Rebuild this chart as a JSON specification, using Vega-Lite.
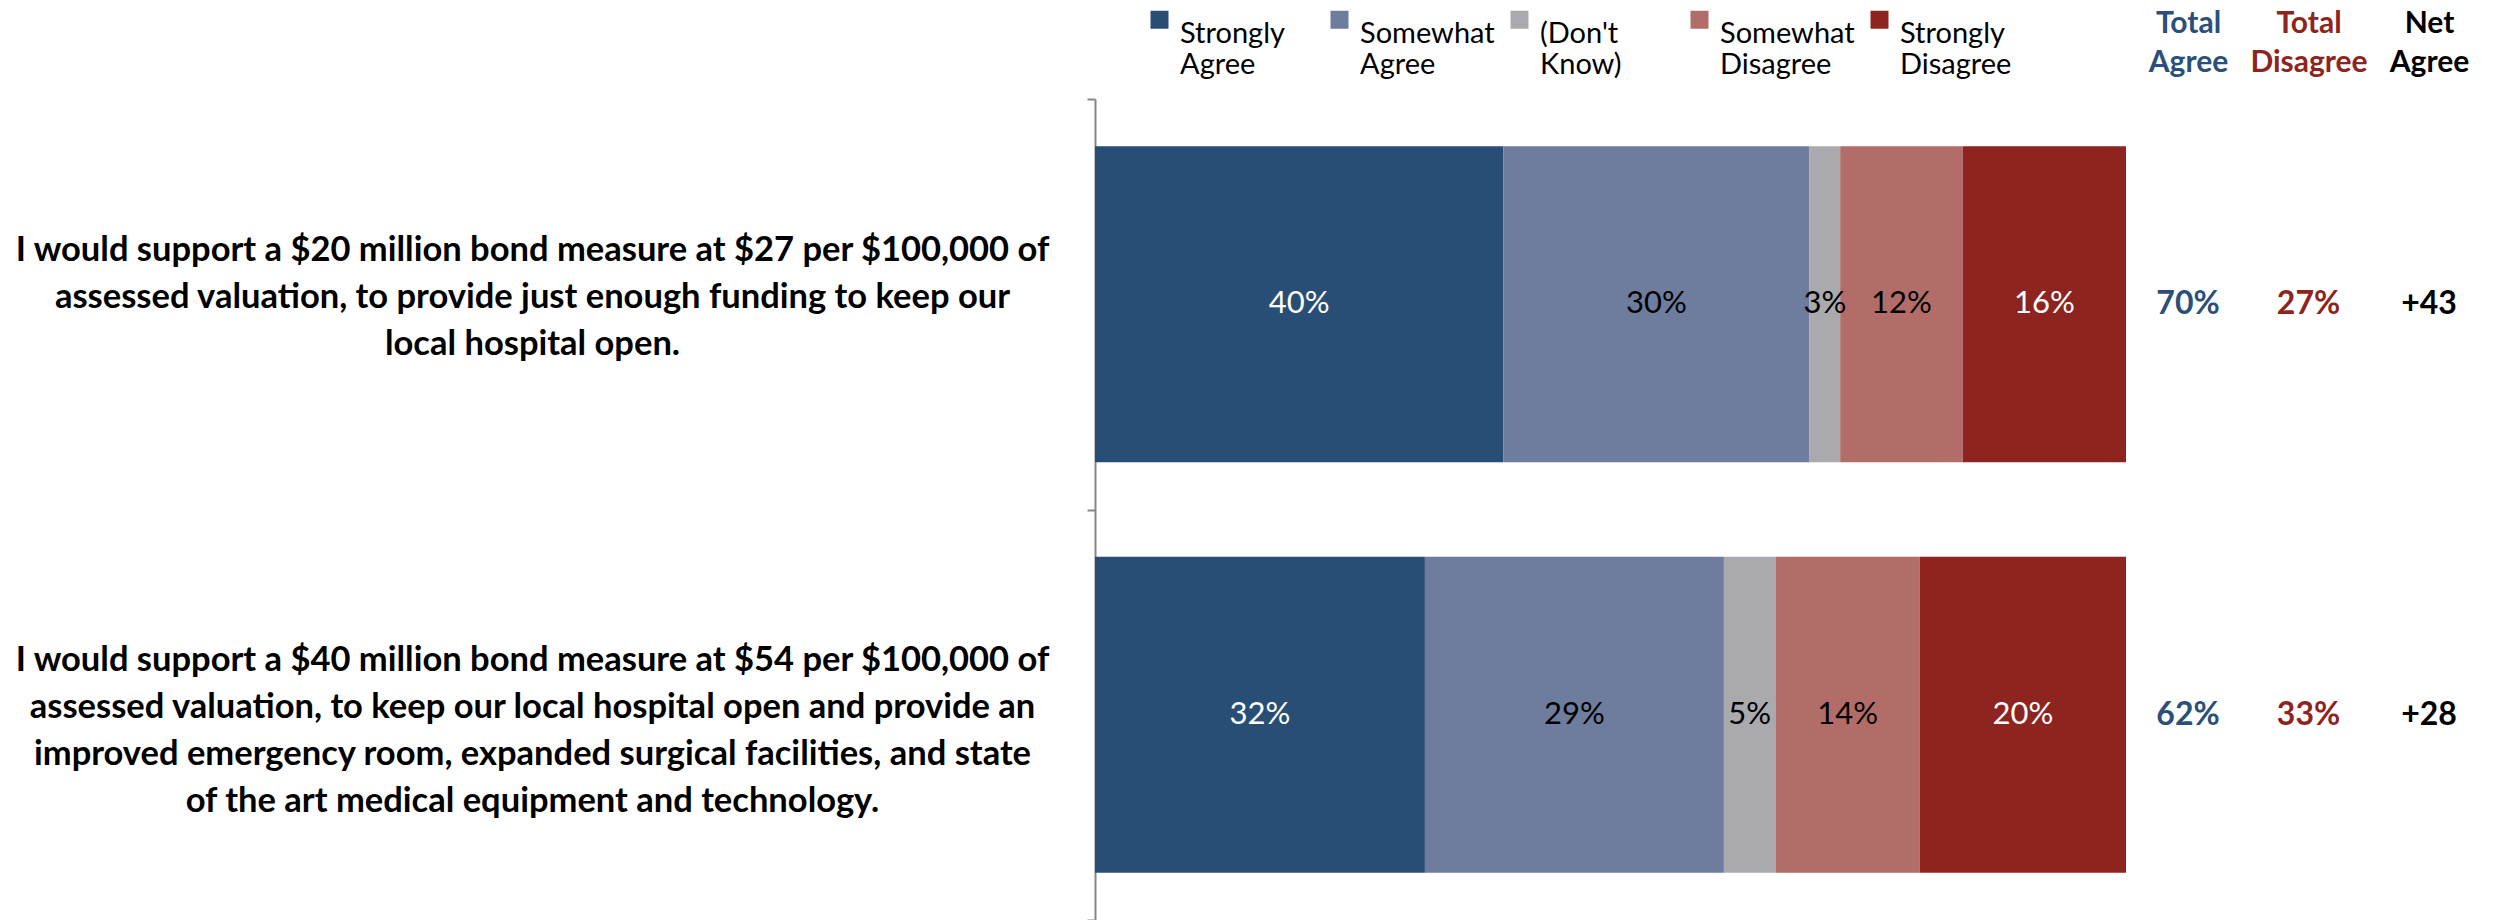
{
  "$schema": "https://vega.github.io/schema/vega-lite/v6.json",
  "width": 1409,
  "height": 821,
  "autosize": {"type": "none"},
  "padding": {"left": 1095, "top": 99, "right": 0, "bottom": 0},
  "background": "white",
  "config": {"view": {"stroke": null}, "font": "Lato"},
  "datasets": {
    "responses": [
      {"question": "I would support a $20 million bond measure at $27 per $100,000 of\nassessed valuation, to provide just enough funding to keep our\nlocal hospital open.", "response": "Strongly Agree", "rank": 1, "share": 0.40},
      {"question": "I would support a $20 million bond measure at $27 per $100,000 of\nassessed valuation, to provide just enough funding to keep our\nlocal hospital open.", "response": "Somewhat Agree", "rank": 2, "share": 0.30},
      {"question": "I would support a $20 million bond measure at $27 per $100,000 of\nassessed valuation, to provide just enough funding to keep our\nlocal hospital open.", "response": "(Don't Know)", "rank": 3, "share": 0.03},
      {"question": "I would support a $20 million bond measure at $27 per $100,000 of\nassessed valuation, to provide just enough funding to keep our\nlocal hospital open.", "response": "Somewhat Disagree", "rank": 4, "share": 0.12},
      {"question": "I would support a $20 million bond measure at $27 per $100,000 of\nassessed valuation, to provide just enough funding to keep our\nlocal hospital open.", "response": "Strongly Disagree", "rank": 5, "share": 0.16},
      {"question": "I would support a $40 million bond measure at $54 per $100,000 of\nassessed valuation, to keep our local hospital open and provide an\nimproved emergency room, expanded surgical facilities, and state\nof the art medical equipment and technology.", "response": "Strongly Agree", "rank": 1, "share": 0.32},
      {"question": "I would support a $40 million bond measure at $54 per $100,000 of\nassessed valuation, to keep our local hospital open and provide an\nimproved emergency room, expanded surgical facilities, and state\nof the art medical equipment and technology.", "response": "Somewhat Agree", "rank": 2, "share": 0.29},
      {"question": "I would support a $40 million bond measure at $54 per $100,000 of\nassessed valuation, to keep our local hospital open and provide an\nimproved emergency room, expanded surgical facilities, and state\nof the art medical equipment and technology.", "response": "(Don't Know)", "rank": 3, "share": 0.05},
      {"question": "I would support a $40 million bond measure at $54 per $100,000 of\nassessed valuation, to keep our local hospital open and provide an\nimproved emergency room, expanded surgical facilities, and state\nof the art medical equipment and technology.", "response": "Somewhat Disagree", "rank": 4, "share": 0.14},
      {"question": "I would support a $40 million bond measure at $54 per $100,000 of\nassessed valuation, to keep our local hospital open and provide an\nimproved emergency room, expanded surgical facilities, and state\nof the art medical equipment and technology.", "response": "Strongly Disagree", "rank": 5, "share": 0.20}
    ],
    "totals": [
      {"question": "I would support a $20 million bond measure at $27 per $100,000 of\nassessed valuation, to provide just enough funding to keep our\nlocal hospital open.", "agree": 0.70, "disagree": 0.27, "net": 43},
      {"question": "I would support a $40 million bond measure at $54 per $100,000 of\nassessed valuation, to keep our local hospital open and provide an\nimproved emergency room, expanded surgical facilities, and state\nof the art medical equipment and technology.", "agree": 0.62, "disagree": 0.33, "net": 28}
    ]
  },
  "encoding": {
    "y": {
      "field": "question",
      "type": "nominal",
      "sort": null,
      "scale": {"paddingInner": 0, "paddingOuter": 0},
      "axis": {
        "title": null,
        "domainColor": "#868686",
        "domainWidth": 2,
        "tickColor": "#868686",
        "tickWidth": 2,
        "tickSize": 8,
        "tickBand": "extent",
        "labelFont": "Lato",
        "labelFontWeight": "bold",
        "labelFontSize": 34.5,
        "labelColor": "black",
        "labelAlign": "center",
        "labelBaseline": "middle",
        "labelPadding": 555,
        "labelLimit": 1300,
        "labelLineHeight": 47,
        "labelOffset": -54,
        "labelExpr": "split(datum.label, '\\n')"
      }
    }
  },
  "layer": [
    {
      "data": {"name": "responses"},
      "layer": [
        {
          "mark": {"type": "bar", "height": {"band": 0.77}},
          "encoding": {
            "x": {"field": "share", "type": "quantitative", "stack": "normalize", "axis": null, "scale": {"domain": [0, 1], "range": [0, 1031]}},
            "color": {
              "field": "response",
              "type": "nominal",
              "scale": {
                "domain": ["Strongly Agree", "Somewhat Agree", "(Don't Know)", "Somewhat Disagree", "Strongly Disagree"],
                "range": ["#294E75", "#6E7C9D", "#AAAAAE", "#B36D69", "#8E2420"]
              },
              "legend": {
                "orient": "none",
                "legendX": 50,
                "legendY": -94,
                "direction": "horizontal",
                "columns": 5,
                "title": null,
                "symbolType": "square",
                "symbolSize": 324,
                "symbolStrokeWidth": 0,
                "labelFont": "Lato",
                "labelFontSize": 29,
                "labelColor": "black",
                "labelExpr": "split(datum.label, ' ')",
                "labelBaseline": "top",
                "labelLineHeight": 38,
                "labelOffset": 6,
                "labelLimit": 400,
                "gridAlign": "all",
                "columnPadding": 10
              }
            },
            "order": {"field": "rank"}
          }
        },
        {
          "mark": {"type": "text", "font": "Lato", "fontSize": 31, "baseline": "middle"},
          "encoding": {
            "x": {"field": "share", "type": "quantitative", "stack": "normalize", "bandPosition": 0.5},
            "detail": {"field": "response"},
            "order": {"field": "rank"},
            "text": {"field": "share", "format": ".0%"},
            "color": {
              "condition": {"test": "datum.response == 'Strongly Agree' || datum.response == 'Strongly Disagree'", "value": "white"},
              "value": "black"
            }
          }
        }
      ]
    },
    {
      "data": {"name": "totals"},
      "layer": [
        {
          "mark": {"type": "text", "font": "Lato", "fontSize": 32, "fontWeight": "bold", "baseline": "middle", "color": "#2A4F7A"},
          "encoding": {
            "x": {
              "datum": "Total Agree",
              "type": "nominal",
              "scale": {"type": "point", "padding": 0, "domain": ["Total Agree", "Total Disagree", "Net Agree"], "range": [1093, 1334]},
              "axis": {"orient": "top", "title": null, "domain": false, "ticks": false, "tickSize": 0, "labelPadding": 61, "labelFont": "Lato", "labelFontWeight": "bold", "labelFontSize": 30, "labelLineHeight": 39, "labelBaseline": "bottom", "labelAngle": 0, "labelExpr": "split(datum.label, ' ')", "labelColor": {"condition": [{"test": "datum.label == 'Total Agree'", "value": "#2A4F7A"}, {"test": "datum.label == 'Total Disagree'", "value": "#8E2420"}], "value": "black"}}
            },
            "text": {"field": "agree", "format": ".0%"}
          }
        },
        {
          "mark": {"type": "text", "font": "Lato", "fontSize": 32, "fontWeight": "bold", "baseline": "middle", "color": "#8E2420"},
          "encoding": {
            "x": {"datum": "Total Disagree", "type": "nominal"},
            "text": {"field": "disagree", "format": ".0%"}
          }
        },
        {
          "mark": {"type": "text", "font": "Lato", "fontSize": 32, "fontWeight": "bold", "baseline": "middle", "color": "black"},
          "encoding": {
            "x": {"datum": "Net Agree", "type": "nominal"},
            "text": {"field": "net", "format": "+d"}
          }
        }
      ]
    }
  ],
  "resolve": {"scale": {"x": "independent"}}
}
